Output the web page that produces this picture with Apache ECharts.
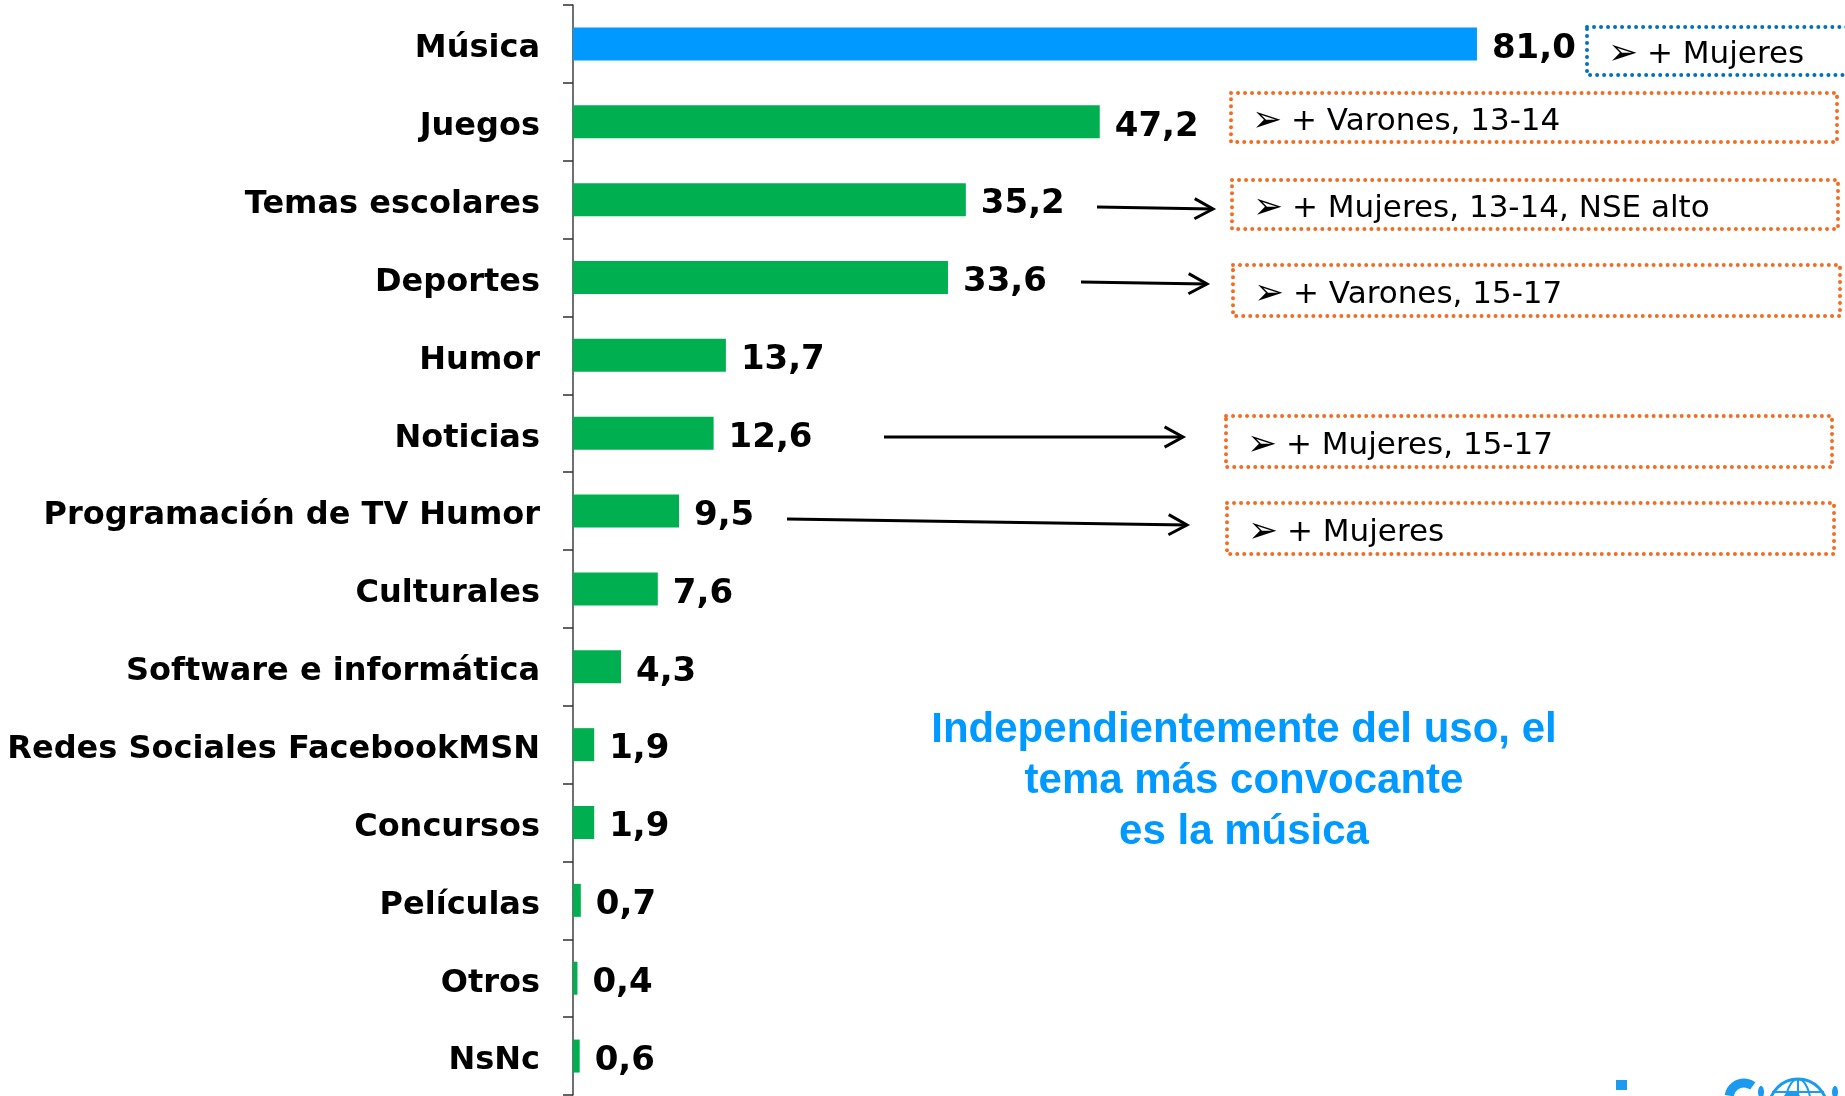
<!DOCTYPE html>
<html>
<head>
<meta charset="utf-8">
<script src="https://cdn.jsdelivr.net/npm/echarts/dist/echarts.min.js"></script>
<style>
  html, body { margin: 0; padding: 0; background: #fff; }
  #myChart { width: 1845px; height: 1096px; }
</style>
</head>
<body>
<div id="myChart"></div>
<script>
var categories = ['Música', 'Juegos', 'Temas escolares', 'Deportes', 'Humor', 'Noticias',
    'Programación de TV Humor', 'Culturales', 'Software e informática',
    'Redes Sociales FacebookMSN', 'Concursos', 'Películas', 'Otros', 'NsNc'];
var values = [81.0, 47.2, 35.2, 33.6, 13.7, 12.6, 9.5, 7.6, 4.3, 1.9, 1.9, 0.7, 0.4, 0.6];

// notas de la derecha
var notes = ['+ Mujeres', '+ Varones, 13-14', '+ Mujeres, 13-14, NSE alto',
    '+ Varones, 15-17', '+ Mujeres, 15-17', '+ Mujeres'];
var message = 'Independientemente del uso, el\ntema más convocante\nes la música';

var blue = '#0099FF';
var green = '#00B050';
var orange = '#F36C21';

var myChart = echarts.init(document.getElementById('myChart'));

var boxes = [
    {x: 1587, y: 27, w: 300, h: 48, c: '#0070C0'},
    {x: 1231, y: 93, w: 606, h: 49, c: orange},
    {x: 1232, y: 180, w: 606, h: 49, c: orange},
    {x: 1233, y: 265, w: 607, h: 51, c: orange},
    {x: 1226, y: 416, w: 606, h: 51, c: orange},
    {x: 1227, y: 503, w: 607, h: 51, c: orange}
];
var arrows = [
    [1097, 207, 1213, 209],
    [1081, 282, 1207, 284],
    [884, 437, 1183, 437],
    [787, 519, 1187, 525]
];

var graphic = [];
boxes.forEach(function (b, i) {
    graphic.push({
        type: 'rect',
        shape: {x: b.x, y: b.y, width: b.w, height: b.h},
        style: {fill: 'none', stroke: b.c, lineWidth: 4, lineDash: [0.01, 7], lineCap: 'round'}
    });
    graphic.push({
        type: 'text',
        x: b.x + 21,
        y: b.y + b.h / 2 + 4,
        style: {
            text: '\u27A2',
            font: '36px "DejaVu Sans"',
            fill: '#000',
            textAlign: 'left', textVerticalAlign: 'middle',
            align: 'left', verticalAlign: 'middle'
        }
    });
    graphic.push({
        type: 'text',
        x: b.x + 60,
        y: b.y + b.h / 2 + 4,
        style: {
            text: notes[i],
            font: '31px "DejaVu Sans"',
            fill: '#000',
            textAlign: 'left', textVerticalAlign: 'middle',
            align: 'left', verticalAlign: 'middle'
        }
    });
});
arrows.forEach(function (a) {
    var ang = Math.atan2(a[3] - a[1], a[2] - a[0]);
    var L = 21, s = 0.5;
    graphic.push({
        type: 'polyline',
        shape: {points: [[a[0], a[1]], [a[2], a[3]]]},
        style: {stroke: '#000', lineWidth: 3, fill: null}
    });
    graphic.push({
        type: 'polyline',
        shape: {points: [
            [a[2] - L * Math.cos(ang - s), a[3] - L * Math.sin(ang - s)],
            [a[2], a[3]],
            [a[2] - L * Math.cos(ang + s), a[3] - L * Math.sin(ang + s)]
        ]},
        style: {stroke: '#000', lineWidth: 3, fill: null}
    });
});
graphic.push({
    type: 'text',
    x: 1244,
    y: 781,
    style: {
        text: message,
        font: 'bold 42px "Liberation Sans", Arial',
        fill: blue,
        lineHeight: 51,
        textAlign: 'center', textVerticalAlign: 'middle',
        align: 'center', verticalAlign: 'middle'
    }
});
// logo (recortado abajo a la derecha)
graphic.push({type: 'rect', shape: {x: 1616, y: 1080, width: 11, height: 10}, style: {fill: '#1a9bf0'}});
graphic.push({type: 'arc', shape: {cx: 1744, cy: 1098, r: 15, startAngle: Math.PI * 1.05, endAngle: Math.PI * 1.7},
    style: {stroke: '#1a9bf0', lineWidth: 9, fill: null}});
graphic.push({type: 'circle', shape: {cx: 1798, cy: 1108, r: 29}, style: {fill: 'none', stroke: '#1a9bf0', lineWidth: 3}});
graphic.push({type: 'circle', shape: {cx: 1792, cy: 1100, r: 9}, style: {fill: '#1a9bf0'}});
graphic.push({type: 'ellipse', shape: {cx: 1798, cy: 1108, rx: 13, ry: 29}, style: {fill: 'none', stroke: '#1a9bf0', lineWidth: 2}});
graphic.push({type: 'line', shape: {x1: 1772, y1: 1092, x2: 1824, y2: 1092}, style: {stroke: '#1a9bf0', lineWidth: 2}});
graphic.push({type: 'line', shape: {x1: 1798, y1: 1079, x2: 1798, y2: 1096}, style: {stroke: '#1a9bf0', lineWidth: 2}});
graphic.push({type: 'ellipse', shape: {cx: 1761, cy: 1092, rx: 3, ry: 6}, style: {fill: '#1a9bf0'}});
graphic.push({type: 'ellipse', shape: {cx: 1835, cy: 1092, rx: 3, ry: 6}, style: {fill: '#1a9bf0'}});

var option = {
    animation: false,
    grid: {
        left: 573,
        top: 5,
        width: 1116,
        bottom: 1
    },
    xAxis: {
        type: 'value',
        min: 0,
        max: 100,
        show: false
    },
    yAxis: {
        type: 'category',
        inverse: true,
        data: categories,
        axisLine: {lineStyle: {color: '#404040', width: 1.5}},
        axisTick: {show: true, inside: false, length: 10, lineStyle: {color: '#303030', width: 1.5}},
        axisLabel: {
            margin: 33,
            formatter: function (v) {
                return '{a|' + v + '}';
            },
            rich: {
                a: {
                    color: '#000',
                    fontFamily: 'DejaVu Sans',
                    fontWeight: 'bold',
                    fontSize: 32,
                    padding: [10, 0, 0, 0]
                }
            }
        }
    },
    series: [
        {
            type: 'bar',
            data: values.map(function (v, i) {
                return {value: v, itemStyle: {color: i === 0 ? blue : green}};
            }),
            barWidth: 33,
            label: {
                show: true,
                position: 'right',
                distance: 15,
                offset: [0, 5],
                color: '#000',
                fontFamily: 'DejaVu Sans',
                fontWeight: 'bold',
                fontSize: 34,
                formatter: function (p) {
                    return p.value.toFixed(1).replace('.', ',');
                }
            }
        }
    ],
    graphic: graphic
};

myChart.setOption(option);
</script>
</body>
</html>
